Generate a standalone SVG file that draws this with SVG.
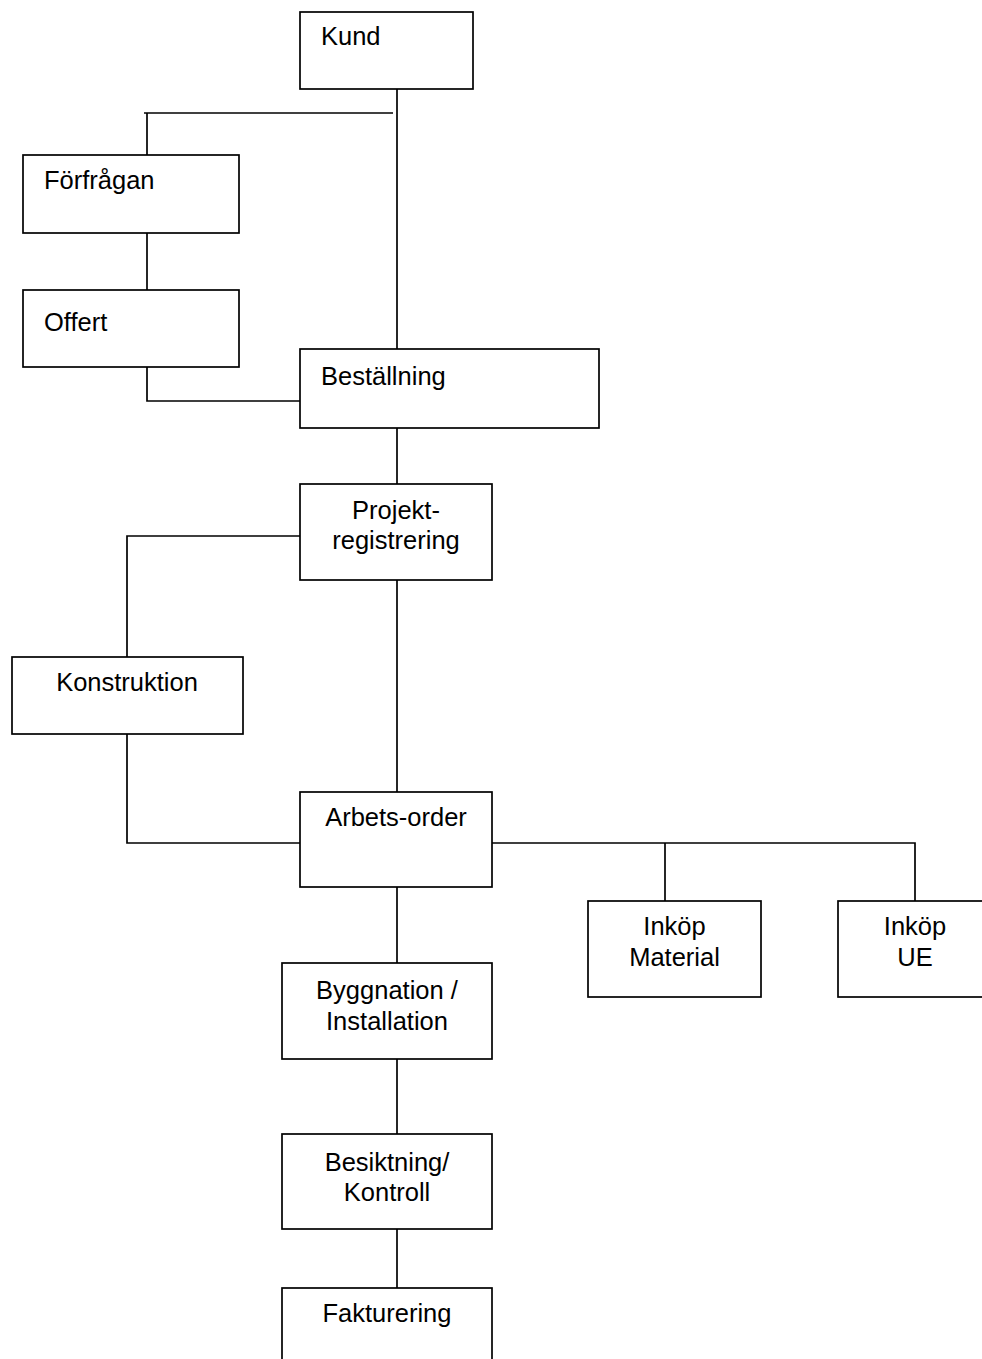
<svg xmlns="http://www.w3.org/2000/svg" width="982" height="1359" viewBox="0 0 982 1359">
<style>
.box{fill:#fff;stroke:#000;stroke-width:1.7}
.ln{fill:none;stroke:#000;stroke-width:1.7}
text{font-family:"Liberation Sans",Arial,sans-serif;font-size:25.5px;fill:#000}
.c{text-anchor:middle}
</style>
<rect width="982" height="1359" fill="#fff"/>
<g id="connectors">
<line class="ln" x1="397" y1="89" x2="397" y2="349"/>
<line class="ln" x1="144" y1="113" x2="393" y2="113"/>
<line class="ln" x1="147" y1="113" x2="147" y2="155"/>
<line class="ln" x1="147" y1="233" x2="147" y2="290"/>
<polyline class="ln" points="147,367 147,401 300,401"/>
<line class="ln" x1="397" y1="428" x2="397" y2="484"/>
<polyline class="ln" points="300,536 127,536 127,657"/>
<line class="ln" x1="397" y1="580" x2="397" y2="792"/>
<polyline class="ln" points="127,734 127,843 300,843"/>
<polyline class="ln" points="492,843 915,843 915,901"/>
<line class="ln" x1="665" y1="843" x2="665" y2="901"/>
<line class="ln" x1="397" y1="887" x2="397" y2="963"/>
<line class="ln" x1="397" y1="1059" x2="397" y2="1134"/>
<line class="ln" x1="397" y1="1229" x2="397" y2="1288"/>
</g>
<g id="kund"><rect class="box" x="300" y="12" width="173" height="77"/><text x="321" y="45">Kund</text></g>
<g id="forfragan"><rect class="box" x="23" y="155" width="216" height="78"/><text x="44" y="189">Förfrågan</text></g>
<g id="offert"><rect class="box" x="23" y="290" width="216" height="77"/><text x="44" y="331">Offert</text></g>
<g id="bestallning"><rect class="box" x="300" y="349" width="299" height="79"/><text x="321" y="385">Beställning</text></g>
<g id="projektregistrering"><rect class="box" x="300" y="484" width="192" height="96"/><text class="c" x="396" y="519">Projekt-</text><text class="c" x="396" y="549">registrering</text></g>
<g id="konstruktion"><rect class="box" x="12" y="657" width="231" height="77"/><text class="c" x="127" y="691">Konstruktion</text></g>
<g id="arbetsorder"><rect class="box" x="300" y="792" width="192" height="95"/><text class="c" x="396" y="826">Arbets-order</text></g>
<g id="inkop-material"><rect class="box" x="588" y="901" width="173" height="96"/><text class="c" x="674.5" y="935">Inköp</text><text class="c" x="674.5" y="966">Material</text></g>
<g id="inkop-ue"><rect class="box" x="838" y="901" width="154" height="96"/><text class="c" x="915" y="935">Inköp</text><text class="c" x="915" y="966">UE</text></g>
<g id="byggnation"><rect class="box" x="282" y="963" width="210" height="96"/><text class="c" x="387" y="999">Byggnation /</text><text class="c" x="387" y="1030">Installation</text></g>
<g id="besiktning"><rect class="box" x="282" y="1134" width="210" height="95"/><text class="c" x="387" y="1171">Besiktning/</text><text class="c" x="387" y="1201">Kontroll</text></g>
<g id="fakturering"><rect class="box" x="282" y="1288" width="210" height="96"/><text class="c" x="387" y="1322">Fakturering</text></g>
</svg>
